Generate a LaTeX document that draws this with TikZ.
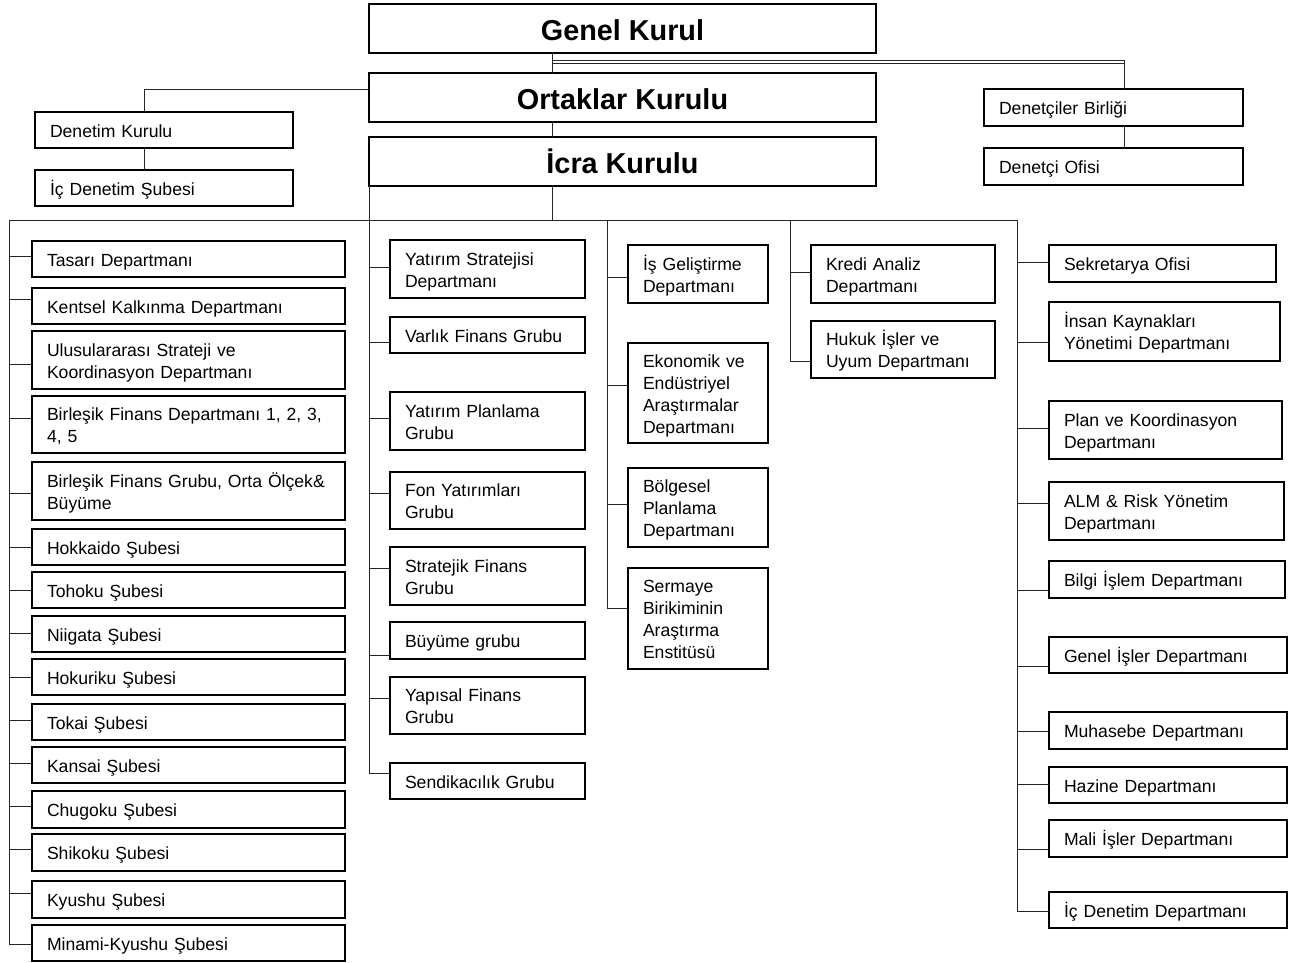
\documentclass[tikz,border=0pt]{standalone}
\usepackage{fontspec}
\setmainfont{Liberation Sans}
% struts that fix the first-line height and the last-line depth of every unit box
\newcommand\unittop{\rule{0pt}{18.5pt}}
\newcommand\unitbottom{\rule[-4.5pt]{0pt}{4.5pt}}
% \orgunit{name}{left}{top}{right}{bottom}{text}
\newcommand\orgunit[6]{%
  \pgfmathsetmacro\unitw{#4-#2}%
  \pgfmathsetmacro\unith{#5-#3}%
  \pgfmathsetmacro\unitt{#4-#2-30}%
  \node[unitbox, minimum width=\unitw pt, minimum height=\unith pt,
        text width=\unitt pt, anchor=north west] (#1) at (#2,#3) {#6};}
% \orgbranch{trunk}{unit}{vertical offset}: horizontal link from a trunk to a unit
\newcommand\orgbranch[3]{\draw[wire] ([yshift=#3pt]#2.west) coordinate (#2-c) -- (#2-c -| #1);}
\begin{document}
\begin{tikzpicture}[x=1pt,y=-1pt,
  unitbox/.style={draw=black,line width=1.4pt,outer sep=0pt,inner xsep=15pt,inner ysep=0pt,
    align=left,font=\fontsize{17.6}{22}\selectfont,
    execute at begin node=\unittop,execute at end node=\unitbottom},
  headbox/.style={draw=black,line width=1.4pt,outer sep=0pt,inner sep=0pt,
    minimum width=507pt,minimum height=49pt,anchor=north west,
    font=\bfseries\fontsize{28.8}{34}\selectfont,text height=23pt,text depth=0pt},
  wire/.style={draw=black!85,line width=1pt}]
\useasboundingbox[fill=white] (0,0) rectangle (1302,962);

% governing bodies
\node[headbox] (genel) at (369,4)   {Genel Kurul};
\node[headbox] (ortak) at (369,73)  {Ortaklar Kurulu};
\node[headbox] (icra)  at (369,137) {İcra Kurulu};

% audit bodies
\orgunit{denetim}{35}{112}{293}{148}{Denetim Kurulu}
\orgunit{icsube}{35}{170}{293}{206}{İç Denetim Şubesi}
\orgunit{dbirlik}{984}{89}{1243}{126}{Denetçiler Birliği}
\orgunit{dofis}{984}{148}{1243}{185}{Denetçi Ofisi}

% guide lines
\coordinate (spine) at (552,0);
\coordinate (bus) at (0,220);
\coordinate (dkx) at (144,0);
\coordinate (dbx) at (1124,0);
\coordinate (dl1) at (0,60.8);
\coordinate (dl2) at (0,63.4);
\coordinate (tL) at (9,0);
\coordinate (tA) at (369,0);
\coordinate (tB) at (607,0);
\coordinate (tC) at (790,0);
\coordinate (tR) at (1017,0);

% left column
\orgunit{tasari}{32}{241}{345}{277}{Tasarı Departmanı}
\orgunit{kentsel}{32}{288}{345}{324}{Kentsel Kalkınma Departmanı}
\orgunit{ulus}{32}{331}{345}{389}{Ulusulararası Strateji ve\\Koordinasyon Departmanı}
\orgunit{bfd}{32}{396}{345}{453}{Birleşik Finans Departmanı 1, 2, 3,\\4, 5}
\orgunit{bfg}{32}{462}{345}{520}{Birleşik Finans Grubu, Orta Ölçek\&\\Büyüme}
\orgunit{hokkaido}{32}{529}{345}{565}{Hokkaido Şubesi}
\orgunit{tohoku}{32}{572}{345}{608}{Tohoku Şubesi}
\orgunit{niigata}{32}{616}{345}{652}{Niigata Şubesi}
\orgunit{hokuriku}{32}{659}{345}{695}{Hokuriku Şubesi}
\orgunit{tokai}{32}{704}{345}{740}{Tokai Şubesi}
\orgunit{kansai}{32}{747}{345}{783}{Kansai Şubesi}
\orgunit{chugoku}{32}{791}{345}{828}{Chugoku Şubesi}
\orgunit{shikoku}{32}{834}{345}{871}{Shikoku Şubesi}
\orgunit{kyushu}{32}{881}{345}{918}{Kyushu Şubesi}
\orgunit{minami}{32}{925}{345}{961}{Minami-Kyushu Şubesi}

% second column
\orgunit{ystrat}{390}{240}{585}{298}{Yatırım Stratejisi\\Departmanı}
\orgunit{varlik}{390}{317}{585}{353}{Varlık Finans Grubu}
\orgunit{yplan}{390}{392}{585}{450}{Yatırım Planlama\\Grubu}
\orgunit{fon}{390}{472}{585}{529}{Fon Yatırımları\\Grubu}
\orgunit{sfin}{390}{547}{585}{605}{Stratejik Finans\\Grubu}
\orgunit{buyume}{390}{622}{585}{659}{Büyüme grubu}
\orgunit{yapisal}{390}{677}{585}{734}{Yapısal Finans\\Grubu}
\orgunit{sendika}{390}{763}{585}{799}{Sendikacılık Grubu}

% third column
\orgunit{isgel}{628}{245}{768}{303}{İş Geliştirme\\Departmanı}
\orgunit{ekon}{628}{343}{768}{443}{Ekonomik ve\\Endüstriyel\\Araştırmalar\\Departmanı}
\orgunit{bolge}{628}{468}{768}{547}{Bölgesel\\Planlama\\Departmanı}
\orgunit{sermaye}{628}{568}{768}{669}{Sermaye\\Birikiminin\\Araştırma\\Enstitüsü}

% fourth column
\orgunit{kredi}{811}{245}{995}{303}{Kredi Analiz\\Departmanı}
\orgunit{hukuk}{811}{321}{995}{378}{Hukuk İşler ve\\Uyum Departmanı}

% right column
\orgunit{sekr}{1049}{245}{1276}{282}{Sekretarya Ofisi}
\orgunit{insan}{1049}{302}{1280}{361}{İnsan Kaynakları\\Yönetimi Departmanı}
\orgunit{plan}{1049}{401}{1282}{459}{Plan ve Koordinasyon\\Departmanı}
\orgunit{alm}{1049}{482}{1284}{540}{ALM \& Risk Yönetim\\Departmanı}
\orgunit{bilgi}{1049}{561}{1285}{598}{Bilgi İşlem Departmanı}
\orgunit{genisler}{1049}{637}{1287}{673}{Genel İşler Departmanı}
\orgunit{muhasebe}{1049}{712}{1287}{749}{Muhasebe Departmanı}
\orgunit{hazine}{1049}{767}{1287}{803}{Hazine Departmanı}
\orgunit{mali}{1049}{820}{1287}{857}{Mali İşler Departmanı}
\orgunit{icdep}{1049}{892}{1287}{928}{İç Denetim Departmanı}

% top links
\draw[wire] (genel.south -| spine) -- (ortak.north -| spine);
\draw[wire] (ortak.south -| spine) -- (icra.north -| spine);
\draw[wire] (icra.south -| spine) -- (bus -| spine);
\draw[wire,line width=0.9pt] (dl1 -| spine) -- (dl1 -| dbx) -- (dbirlik.north -| dbx);
\draw[wire,line width=0.9pt] (dl2 -| spine) -- (dl2 -| dbx);
\draw[wire] (dbirlik.south -| dbx) -- (dofis.north -| dbx);
\draw[wire] ([yshift=8.5pt]ortak.west) -| (denetim.north -| dkx);
\draw[wire] (denetim.south -| dkx) -- (icsube.north -| dkx);

% bus under the executive board
\draw[wire] (bus -| tL) -- (bus -| tR);

% left column links
\orgbranch{tL}{tasari}{3}
\orgbranch{tL}{kentsel}{7}
\orgbranch{tL}{ulus}{-4}
\orgbranch{tL}{bfd}{6.5}
\orgbranch{tL}{bfg}{-2}
\orgbranch{tL}{hokkaido}{0}
\orgbranch{tL}{tohoku}{0}
\orgbranch{tL}{niigata}{1}
\orgbranch{tL}{hokuriku}{0}
\orgbranch{tL}{tokai}{2}
\orgbranch{tL}{kansai}{2}
\orgbranch{tL}{chugoku}{3.5}
\orgbranch{tL}{shikoku}{3.5}
\orgbranch{tL}{kyushu}{6.5}
\orgbranch{tL}{minami}{-1}
\draw[wire] (bus -| tL) -- (minami-c -| tL);

% second column links
\orgbranch{tA}{ystrat}{2}
\orgbranch{tA}{varlik}{-7}
\orgbranch{tA}{yplan}{3}
\orgbranch{tA}{fon}{7.5}
\orgbranch{tA}{sfin}{8}
\orgbranch{tA}{buyume}{-14.5}
\orgbranch{tA}{yapisal}{7.5}
\orgbranch{tA}{sendika}{8}
\draw[wire] (icra.south -| tA) -- (sendika-c -| tA);

% third column links
\orgbranch{tB}{isgel}{-3}
\orgbranch{tB}{ekon}{8}
\orgbranch{tB}{bolge}{3.5}
\orgbranch{tB}{sermaye}{10.5}
\draw[wire] (bus -| tB) -- (sermaye-c -| tB);

% fourth column links
\orgbranch{tC}{kredi}{2}
\orgbranch{tC}{hukuk}{-11.5}
\draw[wire] (bus -| tC) -- (hukuk-c -| tC);

% right column links
\orgbranch{tR}{sekr}{1.5}
\orgbranch{tR}{insan}{-10.5}
\orgbranch{tR}{plan}{2}
\orgbranch{tR}{alm}{8}
\orgbranch{tR}{bilgi}{-10.5}
\orgbranch{tR}{genisler}{-11}
\orgbranch{tR}{muhasebe}{-0.5}
\orgbranch{tR}{hazine}{1}
\orgbranch{tR}{mali}{-10.5}
\orgbranch{tR}{icdep}{-1}
\draw[wire] (bus -| tR) -- (icdep-c -| tR);
\end{tikzpicture}
\end{document}
